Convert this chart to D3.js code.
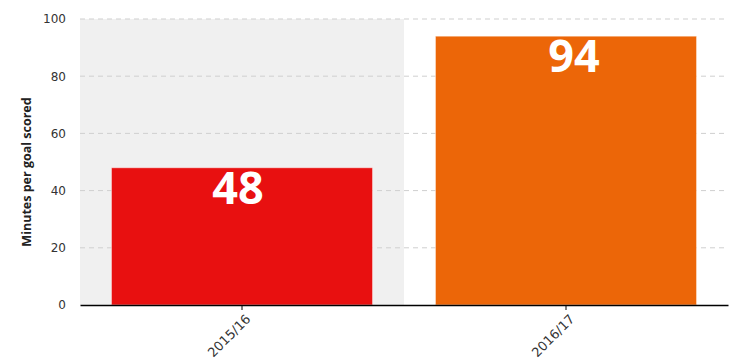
<!DOCTYPE html>
<html>
<head>
<meta charset="utf-8">
<script src="https://cdn.jsdelivr.net/npm/d3@7"></script>
<style>
  body { margin: 0; background: #fff; }
  .tick text { font-family: "DejaVu Sans", sans-serif; font-size: 12px; fill: #333; }
</style>
</head>
<body>
<div id="chart"></div>
<script>
/* DATA */
const seasons = ["2015/16", "2016/17"];
const minutesPerGoal = [48, 94];
const barColors = ["#E81010", "#EC6608"];
const yTicks = [0, 20, 40, 60, 80, 100];

const width = 749,
  height = 364,
  margin = { top: 19, right: 21, bottom: 59, left: 80 };

const svg = d3.select("#chart").append("svg")
  .attr("width", width)
  .attr("height", height);

const x = d3.scaleBand()
  .domain(seasons)
  .range([margin.left, width - margin.right])
  .padding(0);

const y = d3.scaleLinear()
  .domain([0, 100])
  .range([height - margin.bottom, margin.top]);

// grey band behind first category
svg.append("rect")
  .attr("x", x(seasons[0]))
  .attr("y", y(100))
  .attr("width", x.bandwidth())
  .attr("height", y(0) - y(100))
  .attr("fill", "#f0f0f0");

// gridlines
svg.append("g")
  .selectAll("line")
  .data(yTicks.filter(d => d > 0))
  .join("line")
  .attr("x1", margin.left)
  .attr("x2", width - margin.right)
  .attr("y1", d => y(d))
  .attr("y2", d => y(d))
  .attr("stroke", "#cfcfcf")
  .attr("stroke-dasharray", "5,4");

const data = seasons.map((s, i) => ({ season: s, value: minutesPerGoal[i], color: barColors[i] }));
const inset = x.bandwidth() * 0.097;

svg.append("g")
  .selectAll("rect")
  .data(data)
  .join("rect")
  .attr("x", d => x(d.season) + inset)
  .attr("width", x.bandwidth() - 2 * inset)
  .attr("y", d => y(d.value))
  .attr("height", d => y(0) - y(d.value))
  .attr("fill", d => d.color)
  .attr("stroke", "#fff")
  .attr("stroke-opacity", 0.5)
  .attr("stroke-width", 1);

// value labels (the source nudges them a little off centre)
svg.append("g")
  .selectAll("text")
  .data(data)
  .join("text")
  .attr("x", (d, i) => x(d.season) + x.bandwidth() / 2 + (i === 0 ? -4 : 8))
  .attr("y", d => y(d.value) + 36)
  .attr("text-anchor", "middle")
  .attr("fill", "#fff")
  .style("font-family", "'Open Sans', sans-serif")
  .style("font-weight", "bold")
  .style("font-size", "45px")
  .text(d => d.value);

// y axis
const yAxis = svg.append("g")
  .attr("transform", `translate(${margin.left},0)`)
  .call(d3.axisLeft(y).tickValues(yTicks).tickSize(0).tickPadding(14));
yAxis.select(".domain").remove();

// x axis
const xAxis = svg.append("g")
  .attr("transform", `translate(0,${y(0)})`)
  .call(d3.axisBottom(x).tickSizeInner(5).tickSizeOuter(0));
xAxis.select(".domain").attr("stroke", "#000").attr("stroke-width", 1.5);
xAxis.selectAll(".tick line").attr("stroke", "#000");
xAxis.selectAll(".tick text")
  .style("font-size", "13px")
  .attr("text-anchor", "end")
  .attr("dx", "-0.3em")
  .attr("dy", "0.7em")
  .attr("transform", "rotate(-45)");

// y axis title
svg.append("text")
  .attr("transform", `translate(31,172) rotate(-90)`)
  .attr("text-anchor", "middle")
  .style("font-family", "'Open Sans', sans-serif")
  .style("font-weight", "bold")
  .style("font-size", "12.5px")
  .attr("fill", "#222")
  .text("Minutes per goal scored");
</script>
</body>
</html>
